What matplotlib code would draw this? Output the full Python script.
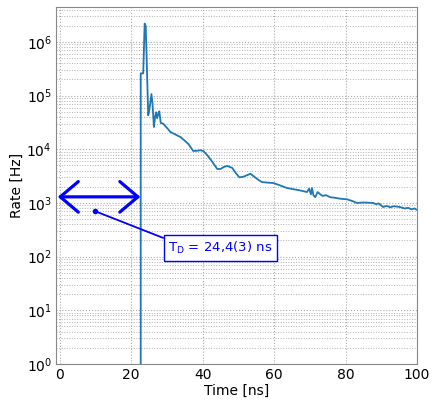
import matplotlib
matplotlib.use("Agg")
import matplotlib.pyplot as plt
from matplotlib.ticker import LogLocator, NullFormatter, FixedLocator, LogFormatterSciNotation

time_ns = [22.6, 22.7, 23.4, 23.8, 24.1, 24.8, 25.2, 25.7, 26.0, 26.4, 26.7, 27.0, 27.3,
           27.6, 27.9, 28.3, 29.0, 29.6, 30.3, 31.0, 32.0, 33.0, 33.8, 35.0, 36.0, 37.4,
           38.5, 39.4, 40.2, 41.3, 42.2, 43.0, 44.1, 45.0, 46.0, 46.9, 48.3, 49.3, 50.3,
           51.5, 53.4, 54.7, 55.6, 56.6, 58.0, 59.8, 61.5, 63.6, 65.5, 67.5, 69.2, 69.8,
           70.3, 70.6, 71.0, 71.5, 72.2, 72.9, 73.6, 74.5, 75.7, 77.0, 78.5, 80.4, 82.0,
           83.2, 85.0, 87.7, 88.5, 89.3, 90.5, 91.5, 92.5, 93.5, 95.2, 96.5, 97.5, 98.5,
           99.3, 100.0]
rate_hz = [0, 2.6e5, 2.6e5, 2.2e6, 2.0e6, 4.3e4, 6e4, 1.07e5, 7e4, 2.6e4, 4e4, 4.9e4, 3.8e4,
           4.5e4, 5.1e4, 3.1e4, 3.0e4, 2.7e4, 2.4e4, 2.1e4, 1.95e4, 1.8e4, 1.7e4, 1.45e4,
           1.26e4, 9.3e3, 9.4e3, 9.6e3, 9.3e3, 7.8e3, 6.5e3, 5.5e3, 4.3e3, 4.3e3, 4.7e3,
           4.9e3, 4.5e3, 3.6e3, 3.0e3, 3.1e3, 3.5e3, 3.0e3, 2.7e3, 2.45e3, 2.4e3, 2.35e3,
           2.15e3, 1.9e3, 1.8e3, 1.7e3, 1.6e3, 1.85e3, 1.45e3, 1.9e3, 1.4e3, 1.28e3, 1.6e3,
           1.45e3, 1.35e3, 1.4e3, 1.28e3, 1.25e3, 1.2e3, 1.17e3, 1.08e3, 1.0e3, 1.02e3,
           1.0e3, 950, 980, 840, 880, 830, 870, 840, 790, 810, 760, 790, 740]

x_ticks = [0, 20, 40, 60, 80, 100]
y_ticks = [1e0, 1e1, 1e2, 1e3, 1e4, 1e5, 1e6]

arrow_x = [-0.5, 22.6]
arrow_y = 1.3e3
dot_xy = (10.0, 700)
label_xy = (45.0, 145)
label_text = r"T$_\mathrm{D}$ = 24,4(3) ns"

fig = plt.figure(figsize=(4.34, 4.08), dpi=100)
ax = fig.add_axes([0.129, 0.108, 0.832, 0.875])
ax.plot(time_ns, rate_hz, color="#1f77b4", lw=1.3)
ax.set_yscale("log")
ax.set_xlim(-1, 100)
ax.set_ylim(1, 4.5e6)
ax.yaxis.set_major_locator(FixedLocator(y_ticks))
ax.yaxis.set_major_formatter(LogFormatterSciNotation())
ax.yaxis.set_minor_locator(LogLocator(base=10, subs=range(2, 10), numticks=100))
ax.yaxis.set_minor_formatter(NullFormatter())
ax.set_xticks(x_ticks)
ax.grid(True, which="major", color="#aaaaaa", linestyle=":", lw=0.8)
ax.grid(True, which="minor", axis="y", color="#b0b0b0", linestyle=":", lw=0.7)
ax.tick_params(which="both", length=0, labelsize=10, colors="black", pad=3)
for s in ax.spines.values():
    s.set_color("#888888")
ax.set_xlabel("Time [ns]", fontsize=10, labelpad=1)
ax.set_ylabel("Rate [Hz]", fontsize=10, labelpad=2)

ax.annotate("", xy=(arrow_x[0], arrow_y), xytext=(arrow_x[1], arrow_y),
            arrowprops=dict(arrowstyle="<->,head_length=1.3,head_width=1.1",
                            color="blue", lw=2.3, shrinkA=0, shrinkB=0))
ax.plot([dot_xy[0]], [dot_xy[1]], "o", color="blue", ms=3)
ax.annotate(label_text, xy=dot_xy, xytext=label_xy, fontsize=9.5, color="blue",
            ha="center", va="center",
            bbox=dict(boxstyle="square,pad=0.35", fc="white", ec="blue", lw=1),
            arrowprops=dict(arrowstyle="-", color="blue", lw=1.3, shrinkA=0, shrinkB=0,
                            relpos=(0, 1)))

fig.savefig("out.png", dpi=100)
